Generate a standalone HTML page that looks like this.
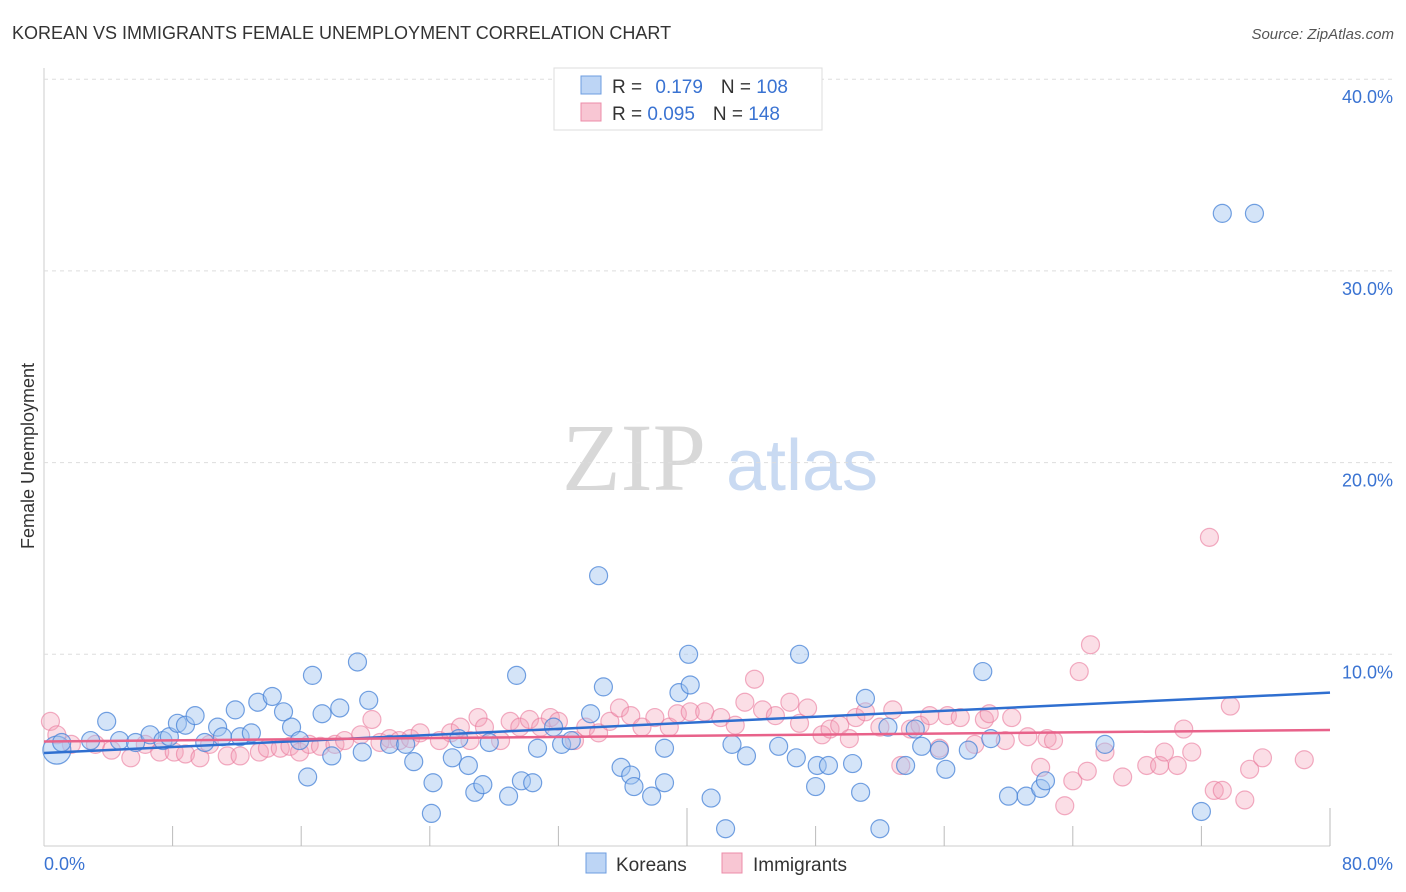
<!DOCTYPE html>
<html><head><meta charset="utf-8"><style>
body{margin:0;background:#fff;font-family:"Liberation Sans",sans-serif;}
#wrap{position:relative;width:1406px;height:892px;overflow:hidden;}
</style></head><body>
<div id="wrap">
<svg id="svg" width="1406" height="892" xmlns="http://www.w3.org/2000/svg">
<text x="12" y="39" font-size="18" fill="#333">KOREAN VS IMMIGRANTS FEMALE UNEMPLOYMENT CORRELATION CHART</text>
<text x="1394" y="39" font-size="15" fill="#555" font-style="italic" text-anchor="end">Source: ZipAtlas.com</text>
<text x="634" y="490" font-size="96" fill="#d8d8d8" font-family="Liberation Serif,serif" text-anchor="middle">ZIP</text>
<text x="802" y="490" font-size="72" fill="#c9daf2" text-anchor="middle">atlas</text>
<text transform="translate(34,456) rotate(-90)" font-size="18" fill="#333" text-anchor="middle">Female Unemployment</text>
<g id="grid"></g><g id="pts"></g><g id="lines"></g>
<g>
<rect x="554" y="68" width="268" height="62" fill="#fff" stroke="#ddd"/>
<rect x="581" y="76" width="20" height="18" fill="#bdd5f5" stroke="#6d9de0"/>
<rect x="581" y="103" width="20" height="18" fill="#f8c6d3" stroke="#ec8ca8"/>
<text x="612" y="93" font-size="19" fill="#333">R = <tspan fill="#3a73d2" dx="8">0.179</tspan><tspan dx="18">N = </tspan><tspan fill="#3a73d2">108</tspan></text>
<text x="612" y="120" font-size="19" fill="#333">R = <tspan fill="#3a73d2">0.095</tspan><tspan dx="18">N = </tspan><tspan fill="#3a73d2">148</tspan></text>
</g>
<g>
<rect x="586" y="853" width="20" height="20" fill="#bdd5f5" stroke="#6d9de0"/>
<text x="616" y="871" font-size="19" fill="#333">Koreans</text>
<rect x="722" y="853" width="20" height="20" fill="#f8c6d3" stroke="#ec8ca8"/>
<text x="753" y="871" font-size="19" fill="#333">Immigrants</text>
</g>
</svg>
</div>
<script>
const yTicks=[10,20,30,40];
const yTickLabels=["10.0%","20.0%","30.0%","40.0%"];
const xEndLabels=["0.0%","80.0%"];
const koreansX=[0.8,1.1,2.9,3.9,4.7,5.7,6.6,7.4,7.8,8.3,8.8,9.4,10.0,10.8,11.1,11.9,12.2,12.9,13.3,14.2,14.9,15.4,15.9,16.4,16.7,17.3,17.9,18.4,19.5,19.8,20.2,21.5,22.5,23.0,24.2,24.1,25.4,25.8,26.4,26.8,27.3,27.7,28.9,29.4,29.7,30.4,30.7,31.7,32.2,32.8,34.0,34.5,34.8,35.9,36.5,36.7,37.8,38.6,38.6,39.5,40.1,40.2,41.5,42.4,42.8,43.7,45.7,46.8,47.0,48.0,48.1,48.8,50.3,50.8,51.1,52.0,52.5,53.6,54.2,54.6,55.7,56.1,57.5,58.4,58.9,60.0,61.1,62.0,62.3,66.0,72.0,73.3,75.3];
const koreansY=[5.0,5.4,5.5,6.5,5.5,5.4,5.8,5.5,5.7,6.4,6.3,6.8,5.4,6.2,5.7,7.1,5.7,5.9,7.5,7.8,7.0,6.2,5.5,3.6,8.9,6.9,4.7,7.2,9.6,4.9,7.6,5.3,5.3,4.4,3.3,1.7,4.6,5.6,4.2,2.8,3.2,5.4,2.6,8.9,3.4,3.3,5.1,6.2,5.3,5.5,6.9,14.1,8.3,4.1,3.7,3.1,2.6,5.1,3.3,8.0,10.0,8.4,2.5,0.9,5.3,4.7,5.2,4.6,10.0,3.1,4.2,4.2,4.3,2.8,7.7,0.9,6.2,4.2,6.1,5.2,5.0,4.0,5.0,9.1,5.6,2.6,2.6,3.0,3.4,5.3,1.8,33.0,33.0];
const immX=[0.4,0.8,1.7,3.2,4.2,5.4,6.3,7.2,8.1,8.8,9.7,10.3,11.4,12.2,13.4,13.9,14.7,15.3,15.9,16.5,17.2,18.1,18.7,19.7,20.4,20.9,21.5,22.1,22.8,23.4,24.6,25.3,25.9,26.5,27.0,27.4,28.4,29.0,29.6,30.2,30.9,31.5,32.0,33.0,33.7,34.5,35.2,35.8,36.5,37.2,38.0,38.9,39.4,40.2,41.1,42.1,43.0,43.6,44.2,44.7,45.5,46.4,47.0,47.5,48.4,48.9,49.5,50.1,50.5,51.1,52.0,52.8,53.3,53.9,54.5,55.1,55.7,56.2,57.0,57.9,58.5,58.8,59.8,60.2,61.2,62.0,62.4,62.8,63.5,64.0,64.9,65.1,64.4,66.0,67.1,68.6,69.4,69.7,70.5,70.9,71.4,72.5,72.8,73.3,73.8,74.7,75.0,75.8,78.4];
const immY=[6.5,5.8,5.3,5.3,5.0,4.6,5.3,4.9,4.9,4.8,4.6,5.3,4.7,4.7,4.9,5.1,5.1,5.2,4.9,5.3,5.2,5.3,5.5,5.8,6.6,5.4,5.6,5.5,5.6,5.9,5.5,5.9,6.2,5.5,6.7,6.2,5.5,6.5,6.2,6.6,6.2,6.7,6.5,5.5,6.2,5.9,6.5,7.2,6.8,6.2,6.7,6.2,6.9,7.0,7.0,6.7,6.3,7.5,8.7,7.1,6.8,7.5,6.4,7.2,5.8,6.1,6.3,5.6,6.7,7.0,6.2,7.1,4.2,6.1,6.3,6.8,5.1,6.8,6.7,5.3,6.6,6.9,5.5,6.7,5.7,4.1,5.6,5.5,2.1,3.4,3.9,10.5,9.1,4.9,3.6,4.2,4.2,4.9,4.2,6.1,4.9,16.1,2.9,2.9,7.3,2.4,4.0,4.6,4.5];
const koreansTrend=[4.85,8.0];
const immTrend=[5.45,6.05];
const X0=44,X1=1330,Y0=846,PXY=19.17;
const sx=v=>X0+(X1-X0)*v/80, sy=v=>Y0-v*PXY;
const NS='http://www.w3.org/2000/svg';
function mk(tag,attrs,parent){const e=document.createElementNS(NS,tag);for(const k in attrs)e.setAttribute(k,attrs[k]);parent.appendChild(e);return e;}
const grid=document.getElementById('grid');
const ax=mk('line',{x1:X0,y1:68,x2:X0,y2:Y0,stroke:'#ccc'},grid);


const bx=mk('line',{x1:X0,y1:Y0,x2:X1,y2:Y0,stroke:'#ccc'},grid);


yTicks.forEach((t,i)=>{
 const g=mk('line',{x1:X0,y1:sy(t),x2:1394,y2:sy(t),stroke:'#ddd','stroke-dasharray':'4,4'},grid);
 
 
 const l=mk('text',{x:1393,y:sy(t)+24,'font-size':18,fill:'#3a73d2','text-anchor':'end'},grid);
 l.textContent=yTickLabels[i];
 
 
});
for(let v=8;v<=80;v+=8){
 const tall=(v===40||v===80);
 const tk=mk('line',{x1:sx(v),y1:tall?808:826,x2:sx(v),y2:Y0,stroke:'#bbb'},grid);
 
 
}
const xl0=mk('text',{x:X0,y:870,'font-size':18,fill:'#3a73d2'},grid);xl0.textContent=xEndLabels[0];


const xl1=mk('text',{x:1393,y:870,'font-size':18,fill:'#3a73d2','text-anchor':'end'},grid);xl1.textContent=xEndLabels[1];


const pts=document.getElementById('pts');
immX.forEach((x,i)=>{
 const c=mk('circle',{cx:sx(x),cy:sy(immY[i]),r:9,fill:'rgba(244,160,184,0.35)',stroke:'rgba(233,120,155,0.6)','stroke-width':1.2},pts);
 
 
});
koreansX.forEach((x,i)=>{
 const c=mk('circle',{cx:sx(x),cy:sy(koreansY[i]),r:i===0?14:9,fill:'rgba(160,195,240,0.45)',stroke:'rgba(70,130,215,0.75)','stroke-width':1.2},pts);
 
 
});
const lines=document.getElementById('lines');
const tb=mk('line',{x1:sx(0),y1:sy(koreansTrend[0]),x2:sx(80),y2:sy(koreansTrend[1]),stroke:'#2f6fd0','stroke-width':2.5},lines);


const tp=mk('line',{x1:sx(0),y1:sy(immTrend[0]),x2:sx(80),y2:sy(immTrend[1]),stroke:'#e8628a','stroke-width':2.5},lines);


</script>
</body></html>
